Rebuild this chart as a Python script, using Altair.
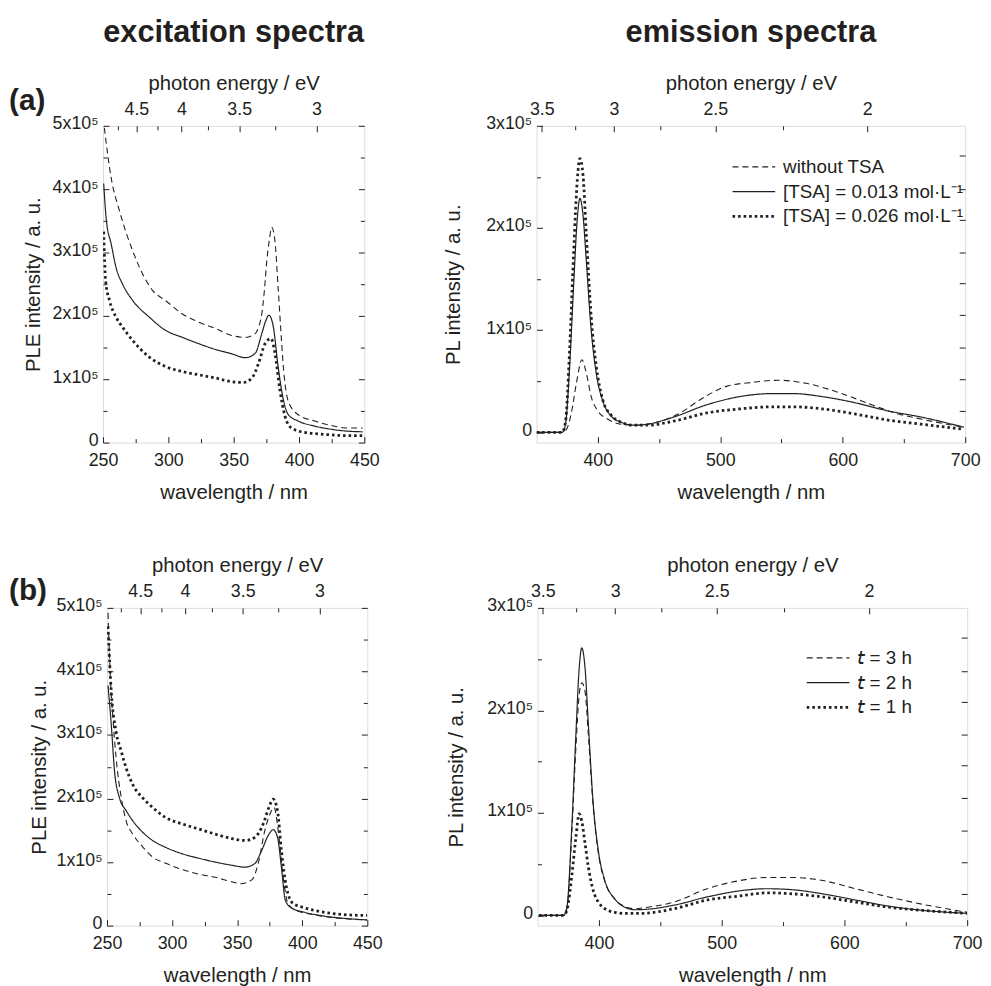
import altair as alt
import pandas as pd

FONT = "Liberation Sans"
INK = "#231f20"
HC = 1239.84  # photon energy (eV) x wavelength (nm)

# ---------------- (a) excitation spectra ----------------
exc_a_names = ["without TSA", "[TSA] = 0.013 mol·L⁻¹", "[TSA] = 0.026 mol·L⁻¹"]
exc_a_wl_0 = [251, 256.3, 262.7, 272.8, 288, 298, 310.8, 323.4, 336, 348.7, 358.9, 366.5, 369, 371.5,
              373.5, 375.3, 377.3, 379.1, 381.6, 384, 386, 388, 391.8, 399.4, 412, 424.7, 437.3, 448.7]
exc_a_I_0 = [4.97, 4.17, 3.65, 3.02, 2.40, 2.24, 2.03, 1.90, 1.80, 1.69, 1.66, 1.72, 1.82, 2.03,
             2.40, 2.86, 3.20, 3.40, 3.18, 2.45, 1.80, 1.20, 0.65, 0.44, 0.34, 0.27, 0.23, 0.23]
exc_a_wl_1 = [250.5, 252.5, 256.3, 260, 265, 272.8, 285.4, 298, 310.8, 323.4, 336, 348.7, 358.9, 366.5,
              371.5, 374.5, 377, 380.4, 384, 388, 391.8, 399.4, 412, 424.7, 437.3, 448.7]
exc_a_I_1 = [4.09, 3.52, 3.13, 2.76, 2.50, 2.24, 1.98, 1.77, 1.66, 1.56, 1.47, 1.40, 1.34, 1.41,
             1.72, 1.92, 2.01, 1.82, 1.20, 0.68, 0.44, 0.34, 0.26, 0.21, 0.18, 0.17]
exc_a_wl_2 = [250.5, 252, 255, 260, 265, 272.8, 285.4, 298, 310.8, 323.4, 336, 348.7, 357.6, 364,
              369, 374, 378.6, 381.6, 385.4, 389.2, 394.3, 404.4, 419.6, 437.3, 448.7]
exc_a_I_2 = [3.33, 2.55, 2.24, 1.98, 1.82, 1.61, 1.35, 1.20, 1.12, 1.07, 1.02, 0.96, 0.95, 1.02,
             1.25, 1.56, 1.64, 1.41, 0.83, 0.42, 0.23, 0.16, 0.13, 0.11, 0.11]

# ---------------- (a) emission spectra ----------------
em_a_names = exc_a_names
em_a_wl_0 = [350, 370.4, 374.4, 378.4, 382.5, 387, 390.6, 394.6, 400, 408, 418.9, 429.6, 440.4, 456.6,
             467.4, 483.6, 505, 526.7, 547, 570, 596.8, 623.7, 642.6, 664, 699]
em_a_I_0 = [0, 0, 0.03, 0.19, 0.48, 0.71, 0.58, 0.35, 0.21, 0.13, 0.08, 0.07, 0.08, 0.13,
            0.19, 0.32, 0.45, 0.49, 0.51, 0.48, 0.39, 0.27, 0.19, 0.13, 0.05]
em_a_wl_1 = [350, 370.9, 373.6, 377, 380.3, 383.3, 385.4, 387.9, 390.6, 394.6, 398.7, 404, 410.8,
             418.9, 429.6, 440.4, 462, 489, 515.9, 542.9, 559, 583.3, 610, 637, 664, 699]
em_a_I_1 = [0, 0, 0.08, 0.65, 1.45, 2.10, 2.29, 2.13, 1.68, 1.00, 0.58, 0.31, 0.16,
            0.10, 0.07, 0.08, 0.15, 0.27, 0.35, 0.38, 0.38, 0.35, 0.29, 0.21, 0.15, 0.05]
em_a_wl_2 = em_a_wl_1
em_a_I_2 = [0, 0, 0.10, 0.81, 1.77, 2.48, 2.68, 2.52, 1.94, 1.13, 0.65, 0.32, 0.17,
            0.10, 0.07, 0.07, 0.11, 0.19, 0.23, 0.25, 0.25, 0.23, 0.18, 0.12, 0.08, 0.03]

# ---------------- (b) excitation spectra ----------------
exc_b_names = ["𝘵 = 3 h", "𝘵 = 2 h", "𝘵 = 1 h"]
exc_b_wl_0 = [250.8, 252.5, 254.6, 257, 261, 264.7, 269.8, 277.4, 285, 295.2, 307.9, 320.6, 333.2,
              345.9, 352.3, 361.2, 366.2, 371.3, 375.1, 378.4, 381.5, 385.3, 389, 394.2, 409.4, 422, 450]
exc_b_I_0 = [4.92, 3.94, 3.26, 2.64, 2.01, 1.65, 1.44, 1.24, 1.08, 0.98, 0.88, 0.81, 0.76,
             0.69, 0.66, 0.72, 0.98, 1.50, 1.75, 1.86, 1.50, 0.77, 0.35, 0.25, 0.17, 0.13, 0.09]
exc_b_wl_1 = [250.8, 253.3, 255.8, 259.6, 264.7, 269.8, 277.4, 285, 295.2, 307.9, 320.6, 333.2, 345.9,
              356, 363.7, 368.8, 373.9, 377.7, 381, 384, 387, 391.6, 401.8, 417, 434.8, 450]
exc_b_I_1 = [3.78, 3.16, 2.43, 2.01, 1.81, 1.65, 1.47, 1.34, 1.23, 1.13, 1.06, 1.00, 0.95,
             0.92, 0.98, 1.18, 1.42, 1.51, 1.39, 0.92, 0.40, 0.28, 0.21, 0.15, 0.11, 0.09]
exc_b_wl_2 = [250.8, 253.3, 257, 261, 264.7, 269.8, 277.4, 285, 295.2, 307.9, 320.6, 333.2, 345.9,
              356, 363.7, 370, 374.4, 377.7, 381, 384, 387.8, 392.9, 401.8, 417, 434.8, 450]
exc_b_I_2 = [4.71, 3.68, 3.05, 2.74, 2.48, 2.22, 2.01, 1.86, 1.70, 1.60, 1.52, 1.44, 1.37,
             1.34, 1.39, 1.60, 1.86, 1.99, 1.81, 1.18, 0.61, 0.35, 0.28, 0.21, 0.17, 0.16]

# ---------------- (b) emission spectra ----------------
em_b_names = exc_b_names
em_b_wl_0 = [351.1, 371.2, 373.9, 378, 381.2, 383.9, 386, 388.7, 391.4, 395.4, 399.5, 404.8, 412.9,
             421, 429, 439.8, 461.3, 488.2, 515, 536.6, 558, 582.3, 609.1, 636, 662.9, 700]
em_b_I_0 = [0, 0, 0.065, 0.83, 1.63, 2.15, 2.27, 2.18, 1.76, 1.05, 0.61, 0.33, 0.16,
            0.087, 0.065, 0.08, 0.13, 0.26, 0.34, 0.37, 0.37, 0.34, 0.26, 0.18, 0.11, 0.03]
em_b_wl_1 = em_b_wl_0
em_b_I_1 = [0, 0, 0.08, 0.89, 1.76, 2.41, 2.61, 2.41, 1.86, 1.08, 0.63, 0.34, 0.16,
            0.08, 0.055, 0.06, 0.10, 0.18, 0.24, 0.26, 0.25, 0.21, 0.15, 0.09, 0.05, 0.02]
em_b_wl_2 = [351.1, 371.2, 373.9, 378, 381.2, 383.9, 386, 388.7, 391.4, 395.4, 399.5, 404.8, 412.9,
             421, 434.4, 461.3, 488.2, 515, 536.6, 558, 582.3, 609.1, 636, 662.9, 700]
em_b_I_2 = [0, 0, 0.05, 0.40, 0.76, 0.99, 0.92, 0.70, 0.47, 0.24, 0.13, 0.065, 0.03,
            0.02, 0.02, 0.065, 0.15, 0.19, 0.22, 0.21, 0.18, 0.13, 0.08, 0.05, 0.02]

# ---------------- axes ticks ----------------
exc_x_labels = [250, 300, 350, 400, 450]
exc_x_minor = [275, 325, 375, 425]
em_x_labels = [400, 500, 600, 700]
em_x_minor = [450, 550, 650]
exc_e_major = [4.5, 4.0, 3.5, 3.0]
exc_e_minor = [4.75, 4.25, 3.75, 3.25]
em_e_major = [3.5, 3.0, 2.5, 2.0]
em_e_minor = [3.25, 2.75, 2.25]
exc_y_labels = [0, 1, 2, 3, 4, 5]
exc_y_minor = [0.5, 1.5, 2.5, 3.5, 4.5]
em_y_labels = [0, 1, 2, 3]
em_y_minor = [0.5, 1.5, 2.5]
em_right_ticks = [0.21, 0.52, 0.83, 1.15, 1.46, 1.76, 2.08, 2.38, 2.71]

DASHES = [[6, 4], [1, 0], [2.6, 3.0]]
WIDTHS = [1.1, 1.2, 2.8]


def panel(names, wls, vals, xdom, ydom, W, H, xlab, xminor, emaj, emin,
          ylab, yminor, rmaj, rmin, ytitle, ytpad, legpos=None, tag=None, title=None):
    rows = []
    for n, w, v in zip(names, wls, vals):
        for a, b in zip(w, v):
            rows.append({"series": n, "wl": a, "I": b})
    df = pd.DataFrame(rows)
    xs = alt.Scale(domain=xdom, nice=False, zero=False)
    ys = alt.Scale(domain=ydom, nice=False, zero=False)
    base = alt.Chart(df)

    if legpos is not None:
        leg = alt.Legend(orient="none", legendX=legpos[0], legendY=legpos[1], title=None,
                         labelFontSize=19, labelFont=FONT, labelColor=INK,
                         symbolType="M-4,0H4", symbolSize=116, symbolStrokeColor=INK,
                         labelOffset=20, rowPadding=5, labelLimit=400, padding=0)
    else:
        leg = None

    lines = base.mark_line(color=INK, clip=True, interpolate="monotone").encode(
        x=alt.X("wl:Q", scale=xs, axis=alt.Axis(
            orient="bottom", values=xlab, ticks=False, domain=False, grid=False,
            labelPadding=9, labelFontSize=18, labelFont=FONT, labelColor=INK,
            labelFlush=False, labelOverlap=False, format="d",
            title="wavelength / nm", titleFontSize=20.5, titleFont=FONT,
            titleFontWeight="normal", titleColor=INK, titlePadding=13)),
        y=alt.Y("I:Q", scale=ys, axis=alt.Axis(
            orient="left", values=ylab, ticks=False, domain=False, grid=False,
            labelPadding=5, labelFontSize=18, labelFont=FONT, labelColor=INK,
            labelFlush=False, labelOverlap=False, labelOffset=-2,
            labelExpr="datum.value == 0 ? '0' : format(datum.value, 'd') + 'x10⁵'",
            title=ytitle, titleFontSize=20.5, titleFont=FONT, titleFontWeight="normal",
            titleColor=INK, titlePadding=ytpad)),
        strokeDash=alt.StrokeDash("series:N", scale=alt.Scale(domain=names, range=DASHES), legend=leg),
        strokeWidth=alt.StrokeWidth("series:N", scale=alt.Scale(type="ordinal", domain=names, range=WIDTHS),
                                    legend=leg),
    )

    def tk(orient, off, values, size):
        return alt.Axis(orient=orient, offset=off, values=values, tickSize=size, labels=False,
                        title=None, domain=False, grid=False, tickColor=INK, tickWidth=1)

    def dummy(xax, yax):
        return base.mark_point(opacity=0, size=1).encode(
            x=alt.X("wl:Q", scale=xs, axis=xax),
            y=alt.Y("I:Q", scale=ys, axis=yax),
        )

    emaj_wl = [HC / e for e in emaj]
    emin_wl = [HC / e for e in emin]
    layers = [
        lines,
        dummy(tk("top", -H, xlab, 6), tk("right", -W, ylab, 6)),
        dummy(tk("top", -H, xminor, 4), tk("right", -W, yminor, 4)),
        dummy(tk("bottom", -H, emaj_wl, 6), tk("left", -W, rmaj, 6)),
    ]
    if rmin:
        layers.append(dummy(tk("bottom", -H, emin_wl, 4), tk("left", -W, rmin, 4)))
    else:
        layers.append(dummy(tk("bottom", -H, emin_wl, 4), None))
    layers.append(dummy(alt.Axis(
        orient="top", values=emaj_wl, ticks=False, domain=False, grid=False,
        labelPadding=7, labelFontSize=18, labelFont=FONT, labelColor=INK,
        labelFlush=False, labelOverlap=False,
        labelExpr=f"format({HC} / datum.value, '.2~f')",
        title="photon energy / eV", titleFontSize=20.5, titleFont=FONT,
        titleFontWeight="normal", titleColor=INK, titlePadding=8), None))
    if tag is not None:
        tdf = pd.DataFrame({"t": [tag[0]]})
        layers.append(alt.Chart(tdf).mark_text(
            align="left", baseline="middle", fontSize=30, fontWeight="bold", font=FONT, color=INK
        ).encode(text="t:N", x=alt.value(tag[1]), y=alt.value(tag[2])))

    ch = alt.layer(*layers).resolve_axis(x="independent", y="independent").properties(width=W, height=H)
    if title is not None:
        ch = ch.properties(title=alt.TitleParams(text=title, fontSize=31, fontWeight="bold", font=FONT,
                                                 color=INK, anchor="middle", frame="group", offset=25))
    return ch


def spacer(w):
    return alt.Chart(pd.DataFrame({"a": [0]})).mark_point(opacity=0).properties(
        width=w, height=1, view=alt.ViewBackground(stroke="transparent"))


TL = panel(exc_a_names, [exc_a_wl_0, exc_a_wl_1, exc_a_wl_2], [exc_a_I_0, exc_a_I_1, exc_a_I_2],
           [250, 450], [0, 5], 264, 320, exc_x_labels, exc_x_minor, exc_e_major, exc_e_minor,
           exc_y_labels, exc_y_minor, exc_y_labels, exc_y_minor, "PLE intensity / a. u.", 9,
           tag=("(a)", -95, -25), title="excitation spectra")
TR = panel(em_a_names, [em_a_wl_0, em_a_wl_1, em_a_wl_2], [em_a_I_0, em_a_I_1, em_a_I_2],
           [350, 700], [-0.1, 3], 433, 320, em_x_labels, em_x_minor, em_e_major, em_e_minor,
           em_y_labels, em_y_minor, em_right_ticks, [], "PL intensity / a. u.", 22,
           legpos=(210, 32), title="emission spectra")
BL = panel(exc_b_names, [exc_b_wl_0, exc_b_wl_1, exc_b_wl_2], [exc_b_I_0, exc_b_I_1, exc_b_I_2],
           [250, 450], [0, 5], 263, 321, exc_x_labels, exc_x_minor, exc_e_major, exc_e_minor,
           exc_y_labels, exc_y_minor, exc_y_labels, exc_y_minor, "PLE intensity / a. u.", 7,
           tag=("(b)", -99, -17))
BR = panel(em_b_names, [em_b_wl_0, em_b_wl_1, em_b_wl_2], [em_b_I_0, em_b_I_1, em_b_I_2],
           [350, 700], [-0.1, 3], 434, 321, em_x_labels, em_x_minor, em_e_major, em_e_minor,
           em_y_labels, em_y_minor, em_right_ticks, [], "PL intensity / a. u.", 20,
           legpos=(284, 41))

res = dict(x="independent", y="independent", strokeDash="independent", strokeWidth="independent")
row1 = alt.hconcat(TL, spacer(174), TR, spacing=0, bounds="flush").resolve_scale(**res)
row2 = alt.hconcat(spacer(4), BL, spacer(172), BR, spacing=0, bounds="flush").resolve_scale(**res)

chart = alt.vconcat(row1, row2, spacing=52).resolve_scale(**res).properties(
    padding={"top": 3, "left": 0, "right": 0, "bottom": 0}, background="white"
).configure_view(stroke=INK, strokeWidth=1.2).configure(font=FONT)

chart.save("out.html", embed_options={"renderer": "svg", "actions": False})
